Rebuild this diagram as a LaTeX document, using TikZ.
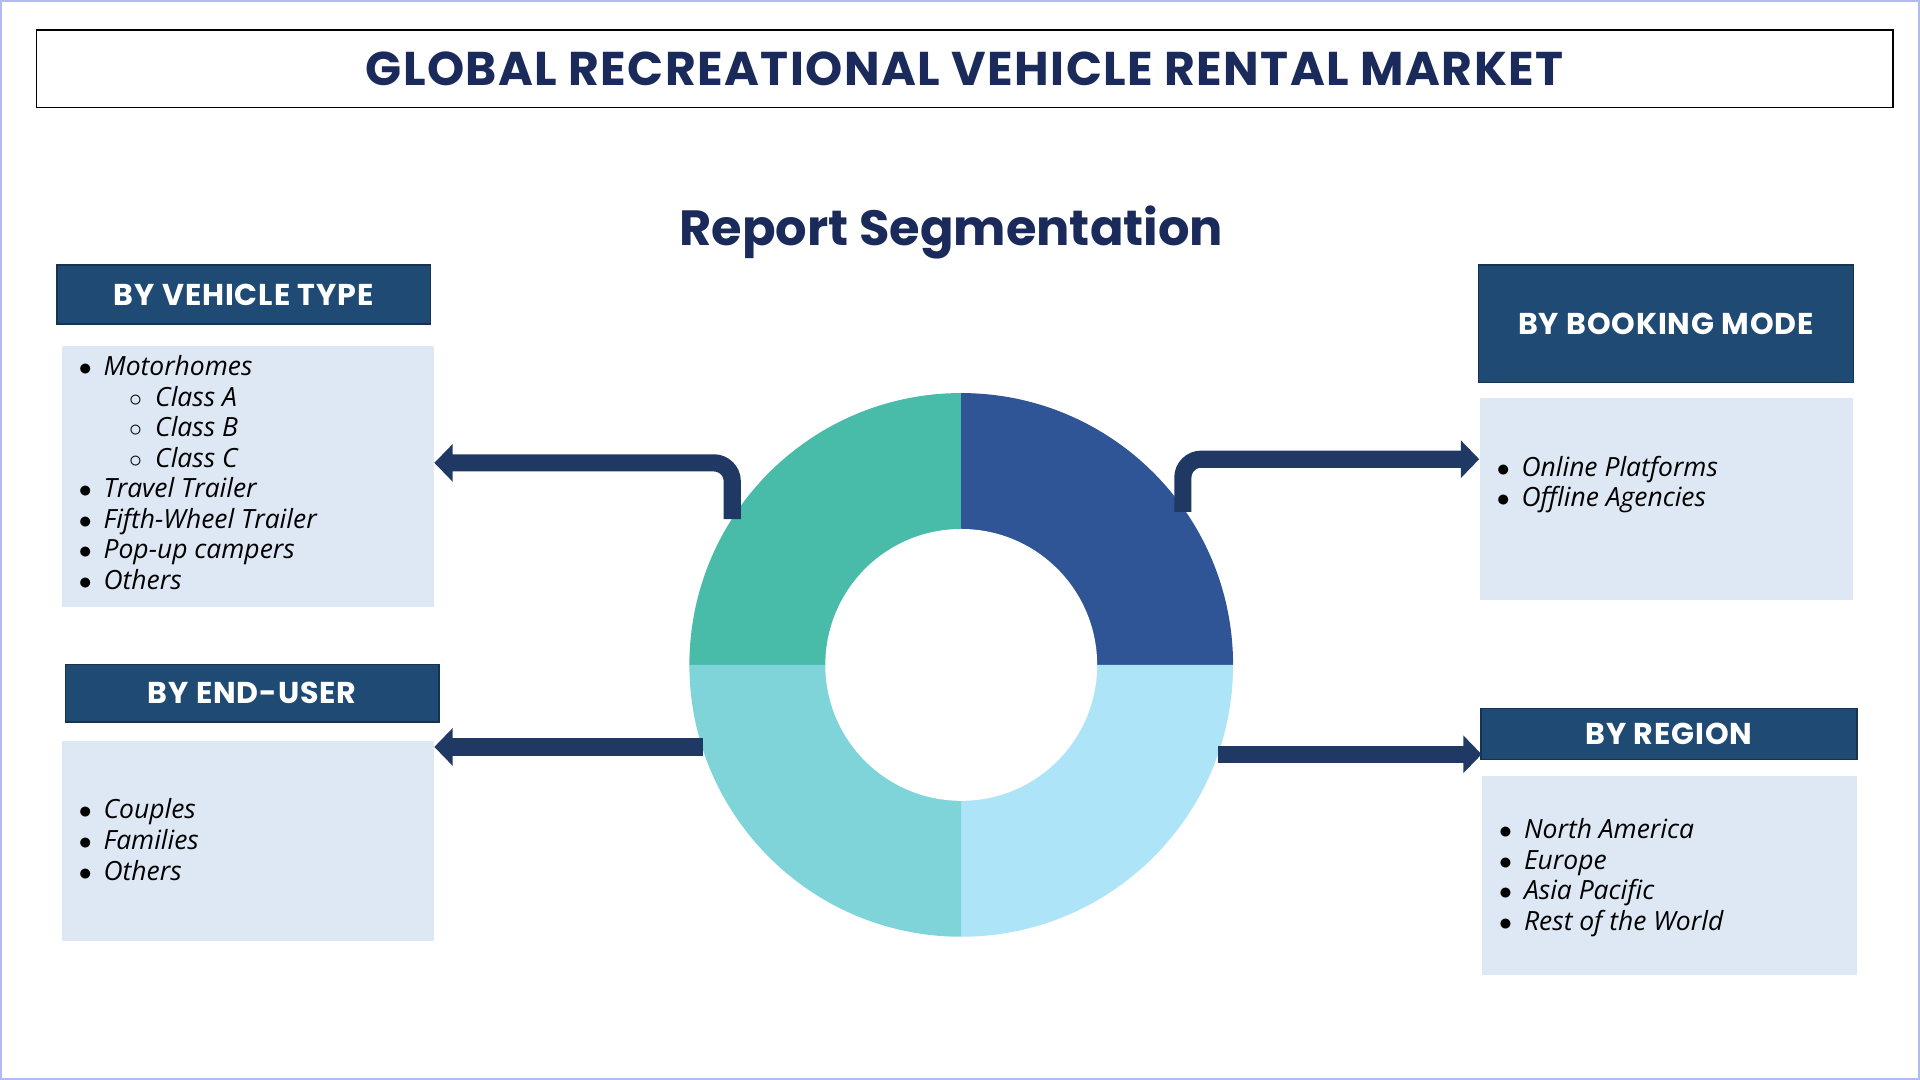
\documentclass[tikz,border=0pt]{standalone}
\usepackage{fontspec}
\setmainfont{Open Sans}
\newfontfamily\headfont{Poppins}
\newfontfamily\headwide[LetterSpace=3]{Poppins}
\usetikzlibrary{arrows.meta}
\definecolor{navy}{HTML}{1A2A5A}
\definecolor{hdr}{HTML}{1F4A73}
\definecolor{boxbg}{HTML}{DEE8F4}
\definecolor{arr}{HTML}{1F3864}
\definecolor{qa}{HTML}{48BBA9}
\definecolor{qb}{HTML}{2F5597}
\definecolor{qc}{HTML}{ADE4F7}
\definecolor{qd}{HTML}{7FD4DA}
\tikzset{
 hdrbox/.style={fill=hdr,draw=hdr!70!black,line width=0.6pt,text=white,font=\headwide\bfseries\fontsize{14}{16}\selectfont,anchor=north west,inner sep=0pt},
 listbox/.style={fill=boxbg,anchor=north west,inner sep=0pt},
 listtxt/.style={anchor=north west,align=left,font=\itshape\fontsize{12.3}{14.2}\selectfont,inner sep=0pt},
 conn/.style={draw=arr,line width=0.28cm,rounded corners=0.3cm,-{Triangle[length=0.3cm,width=0.6cm]}}
}
\newcommand{\bul}{{\upshape$\bullet$}\hspace{0.45em}}
\newcommand{\sbul}{\hspace{1.9em}$\circ$\hspace{0.5em}}
\begin{document}
\begin{tikzpicture}[x=0.02cm,y=-0.02cm]
\useasboundingbox (0,0) rectangle (1568,882);
\draw[draw=boxbg!80!blue,line width=1pt] (1,1) rectangle (1567,881);
\node[draw=black,line width=0.8pt,minimum width=1516*0.02cm,minimum height=63*0.02cm,anchor=north west,inner sep=0pt,text=navy,font=\headwide\bfseries\fontsize{22}{24}\selectfont] (title) at (29,24) {GLOBAL RECREATIONAL VEHICLE RENTAL MARKET};
\node[text=navy,font=\headfont\bfseries\fontsize{23}{26}\selectfont] (rs) at (777,190) {Report Segmentation};
% headers
\node[hdrbox,minimum width=305*0.02cm,minimum height=48*0.02cm] (h1) at (46,216) {BY VEHICLE TYPE};
\node[hdrbox,minimum width=305*0.02cm,minimum height=47*0.02cm] (h2) at (53,542) {BY END-USER};
\node[hdrbox,minimum width=306*0.02cm,minimum height=96*0.02cm] (h3) at (1207,216) {BY BOOKING MODE};
\node[hdrbox,minimum width=307*0.02cm,minimum height=42*0.02cm] (h4) at (1209,578) {BY REGION};
% list boxes
\node[listbox,minimum width=304*0.02cm,minimum height=213*0.02cm] (b1) at (50,282) {};
\node[listbox,minimum width=304*0.02cm,minimum height=163*0.02cm] (b2) at (50,605) {};
\node[listbox,minimum width=305*0.02cm,minimum height=165*0.02cm] (b3) at (1208,325) {};
\node[listbox,minimum width=306*0.02cm,minimum height=163*0.02cm] (b4) at (1210,633) {};
\node[listtxt] (t1) at (64,290) {\bul Motorhomes\\ \sbul Class A\\ \sbul Class B\\ \sbul Class C\\ \bul Travel Trailer\\ \bul Fifth-Wheel Trailer\\ \bul Pop-up campers\\ \bul Others};
\node[listtxt] (t2) at (64,652) {\bul Couples\\ \bul Families\\ \bul Others};
\node[listtxt] (t3) at (1222,372) {\bul Online Platforms\\ \bul Offline Agencies};
\node[listtxt] (t4) at (1224,668) {\bul North America\\ \bul Europe\\ \bul Asia Pacific\\ \bul Rest of the World};
% donut
\coordinate (c) at (785,543);
\fill[qa] (c) -- ++(-222,0) arc[start angle=180,end angle=90,radius=222*0.02cm] -- cycle;
\fill[qb] (c) -- ++(0,-222) arc[start angle=90,end angle=0,radius=222*0.02cm] -- cycle;
\fill[qc] (c) -- ++(222,0) arc[start angle=0,end angle=-90,radius=222*0.02cm] -- cycle;
\fill[qd] (c) -- ++(0,222) arc[start angle=-90,end angle=-180,radius=222*0.02cm] -- cycle;
\fill[white] (c) circle[radius=111*0.02cm];
% connectors
\coordinate (s1) at (598,424);
\coordinate (s2) at (966,418);
\coordinate (s3) at (574,610);
\coordinate (s4) at (995,616);
\draw[conn] (s1) -- (598,378) -- (b1.east|-0,378);
\draw[conn] (s2) -- (966,375) -- (b3.west|-0,375);
\draw[conn] (s3) -- (b2.east|-s3);
\draw[conn] (s4) -- (b4.west|-s4);
\end{tikzpicture}
\end{document}
